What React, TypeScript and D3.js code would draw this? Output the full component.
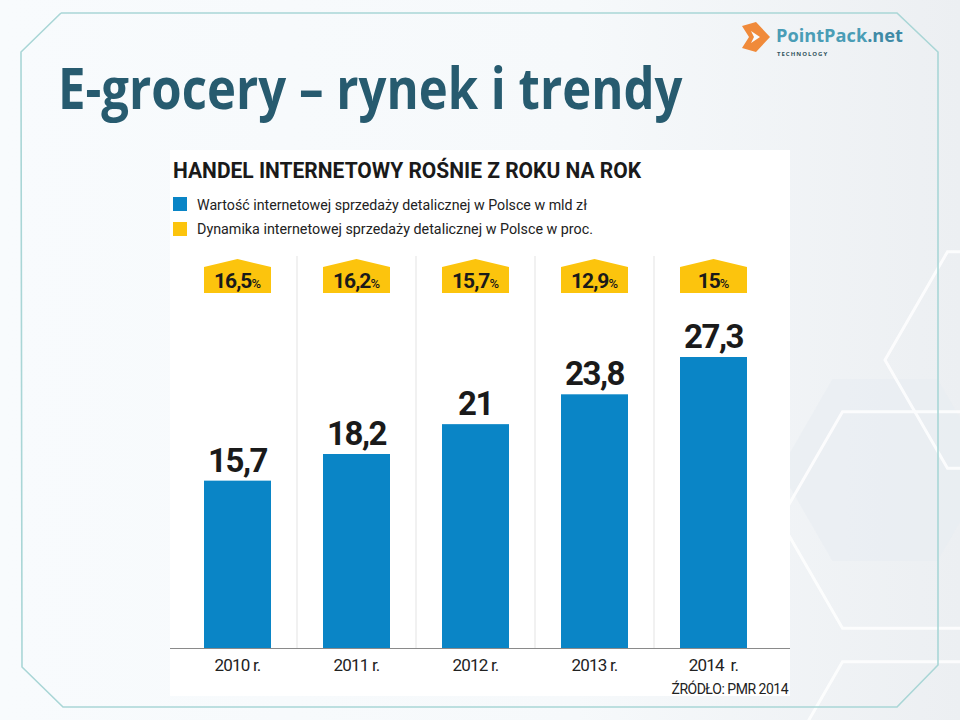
import React, { useLayoutEffect, useRef, useState } from "react";
import * as d3 from "d3";

const years = ["2010 r.", "2011 r.", "2012 r.", "2013 r.", "2014  r."];
const values = [15.7, 18.2, 21, 23.8, 27.3];
const valueLabels = ["15,7", "18,2", "21", "23,8", "27,3"];
const dynamics = ["16,5", "16,2", "15,7", "12,9", "15"];

const W = 960;
const H = 720;

export default function App() {
  const titleRef = useRef<SVGTextElement>(null);
  const [sx, setSx] = useState(1);
  useLayoutEffect(() => {
    if (titleRef.current) {
      const w = titleRef.current.getBBox().width;
      if (w > 0) setSx(625 / w);
    }
  }, []);

  const x = d3
    .scaleBand<string>()
    .domain(years)
    .range([178, 773])
    .paddingInner(0.437)
    .paddingOuter(0.2185);
  const y = d3.scaleLinear().domain([0, 27.3]).range([648, 357]);
  const bw = x.bandwidth();
  const step = x.step();
  const gap = step - bw;

  const hexPath = (cx: number, cy: number, r: number) => {
    const pts = d3.range(6).map((i) => {
      const a = (Math.PI / 3) * i;
      return [cx + r * Math.cos(a), cy + r * Math.sin(a)] as [number, number];
    });
    return d3.line()(pts.concat([pts[0]])) || "";
  };

  const framePts: [number, number][] = [
    [61, 13],
    [897, 13],
    [938, 52],
    [938, 665],
    [897, 707],
    [63, 707],
    [22, 667],
    [21, 52],
    [61, 13],
  ];

  return (
    <svg
      width={W}
      height={H}
      style={{ position: "absolute", left: 0, top: 0, display: "block" }}
    >
      <defs>
        <linearGradient id="bg" x1="0" y1="0" x2="1" y2="0">
          <stop offset="0" stopColor="#f8fbfd" />
          <stop offset="0.6" stopColor="#f6f9fb" />
          <stop offset="1" stopColor="#eceff2" />
        </linearGradient>
      </defs>
      <rect x={0} y={0} width={W} height={H} fill="url(#bg)" />
      {/* faint hexagons on the right */}
      <g fill="#e8edf1" opacity={0.6}>
        <path d={hexPath(885, 470, 105)} />
      </g>
      <g fill="none" stroke="#ffffff" strokeWidth={3} opacity={0.85}>
        <path d={hexPath(905, 520, 125)} />
        <path d={hexPath(905, 770, 125)} />
        <path d={hexPath(1010, 360, 125)} />
      </g>
      <path
        d={d3.line()(framePts) || ""}
        fill="none"
        stroke="#a9d6d6"
        strokeWidth={1.6}
      />

      {/* logo */}
      <g transform="translate(742,22)">
        <path d="M0,4 L14,0 L28,15 L14,30 L0,26 L7,15 Z" fill="#f08a3a" />
        <path d="M9,9 L18,15 L9,21 L12,15 Z" fill="#f8fbfd" />
      </g>
      <text
        x={776}
        y={42}
        fontFamily="Open Sans, sans-serif"
        fontWeight={700}
        fontSize={18}
        fill="#4a9db6"
        textLength={127}
        lengthAdjust="spacingAndGlyphs"
      >
        PointPack<tspan fill="#3f8aa6">.net</tspan>
      </text>
      <text
        x={777}
        y={56}
        fontFamily="Open Sans, sans-serif"
        fontWeight={700}
        fontSize={6}
        letterSpacing={1}
        fill="#33555f"
      >
        TECHNOLOGY
      </text>

      {/* slide title */}
      <text
        ref={titleRef}
        transform={`translate(58,109) scale(${sx},1)`}
        x={0}
        y={0}
        fontFamily="Open Sans, sans-serif"
        fontWeight={700}
        fontSize={57}
        fill="#275b6f"
      >
        E-grocery – rynek i trendy
      </text>

      {/* chart panel */}
      <rect x={170} y={150} width={620} height={546} fill="#ffffff" />
      <text
        x={173}
        y={178}
        fontFamily="Roboto, sans-serif"
        fontWeight={700}
        fontSize={22}
        fill="#1a1a1a"
        textLength={468}
        lengthAdjust="spacingAndGlyphs"
      >
        HANDEL INTERNETOWY ROŚNIE Z ROKU NA ROK
      </text>
      <rect x={173} y={197} width={14} height={14} fill="#0a85c6" />
      <text
        x={197}
        y={210}
        fontFamily="Roboto, sans-serif"
        fontSize={14.5}
        fill="#222"
        textLength={390}
        lengthAdjust="spacingAndGlyphs"
      >
        Wartość internetowej sprzedaży detalicznej w Polsce w mld zł
      </text>
      <rect x={173} y={222} width={14} height={14} fill="#fcc40d" />
      <text
        x={197}
        y={234}
        fontFamily="Roboto, sans-serif"
        fontSize={14.5}
        fill="#222"
        textLength={396}
        lengthAdjust="spacingAndGlyphs"
      >
        Dynamika internetowej sprzedaży detalicznej w Polsce w proc.
      </text>

      {/* separators */}
      {years.slice(0, -1).map((d) => {
        const sxl = (x(d) as number) + bw + gap / 2;
        return (
          <line
            key={"s" + d}
            x1={sxl}
            x2={sxl}
            y1={256}
            y2={648}
            stroke="#e3e3e3"
            strokeWidth={1}
          />
        );
      })}

      {/* bars */}
      {years.map((d, i) => (
        <rect
          key={"b" + d}
          x={x(d)}
          y={y(values[i])}
          width={bw}
          height={y(0) - y(values[i])}
          fill="#0a85c6"
        />
      ))}

      {/* value labels */}
      {years.map((d, i) => (
        <text
          key={"v" + d}
          x={(x(d) as number) + bw / 2}
          y={y(values[i]) - 9}
          textAnchor="middle"
          fontFamily="Roboto, sans-serif"
          fontWeight={700}
          fontSize={33}
          letterSpacing={-1.5}
          fill="#1a1a1a"
        >
          {valueLabels[i]}
        </text>
      ))}

      {/* dynamics badges */}
      {years.map((d, i) => {
        const x0 = x(d) as number;
        const top = 259;
        const shoulder = 267;
        const bottom = 293;
        const pts: [number, number][] = [
          [x0, shoulder],
          [x0 + bw / 2, top],
          [x0 + bw, shoulder],
          [x0 + bw, bottom],
          [x0, bottom],
          [x0, shoulder],
        ];
        return (
          <g key={"d" + d}>
            <path d={d3.line()(pts) || ""} fill="#fcc40d" />
            <text
              x={x0 + bw / 2}
              y={288}
              textAnchor="middle"
              fontFamily="Roboto, sans-serif"
              fontWeight={700}
              fill="#1a1a1a"
            >
              <tspan fontSize={21} letterSpacing={-1}>
                {dynamics[i]}
              </tspan>
              <tspan fontSize={13} fontWeight={500}>
                %
              </tspan>
            </text>
          </g>
        );
      })}

      {/* axis */}
      <line x1={170} x2={790} y1={648.5} y2={648.5} stroke="#8a8a8a" strokeWidth={1.2} />
      {years.map((d) => (
        <text
          key={"y" + d}
          x={(x(d) as number) + bw / 2}
          y={671}
          textAnchor="middle"
          fontFamily="Roboto, sans-serif"
          fontSize={17}
          letterSpacing={-0.8}
          fill="#222"
          style={{ whiteSpace: "pre" }}
        >
          {d}
        </text>
      ))}
      <text
        x={788}
        y={694}
        textAnchor="end"
        fontFamily="Roboto, sans-serif"
        fontSize={14}
        letterSpacing={-0.5}
        fill="#222"
      >
        ŹRÓDŁO: PMR 2014
      </text>
    </svg>
  );
}
